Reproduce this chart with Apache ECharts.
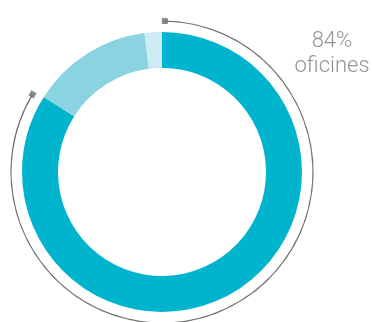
<!DOCTYPE html>
<html><head><meta charset="utf-8">
<script src="https://cdn.jsdelivr.net/npm/echarts@6/dist/echarts.min.js"></script>
<style>html,body{margin:0;padding:0;background:#fff}#c{width:372px;height:322px}</style>
</head><body><div id="c"></div>
<script>
const categories = ['oficines', 'altres', 'resta'];
const values = [84, 14, 2];
const colors = ['#00b4ce', '#8ad3e0', '#cdebf2'];
const arcRange = [0.3, 83.6];
const labelValue = '84%';
const labelText = 'oficines';

const chart = echarts.init(document.getElementById('c'), null, {renderer: 'canvas'});
const C = [162, 172];
chart.setOption({
  animation: false,
  polar: {center: C, radius: 151},
  angleAxis: {type: 'value', min: 0, max: 100, startAngle: 90, clockwise: true, show: false},
  radiusAxis: {type: 'value', min: 0, max: 1, show: false},
  series: [
    {
      type: 'pie', center: C, radius: [104, 140], startAngle: 90, clockwise: true,
      label: {show: false}, labelLine: {show: false}, silent: true,
      itemStyle: {borderWidth: 0},
      data: categories.map((n, i) => ({name: n, value: values[i], itemStyle: {color: colors[i]}}))
    },
    {
      type: 'pie', center: C, radius: [150.4, 151.6], startAngle: 90 - arcRange[0] * 3.6, clockwise: true,
      label: {show: false}, labelLine: {show: false}, silent: true,
      itemStyle: {borderWidth: 0},
      data: [
        {value: arcRange[1] - arcRange[0], itemStyle: {color: '#707070'}},
        {value: 100 - (arcRange[1] - arcRange[0]), itemStyle: {color: 'rgba(0,0,0,0)'}}
      ]
    },
    {
      type: 'scatter', coordinateSystem: 'polar', symbol: 'rect', symbolSize: 6, silent: true,
      itemStyle: {color: '#6e6e6e'},
      data: [
        {value: [1, arcRange[0]], symbolRotate: 0},
        {value: [1, arcRange[1]], symbolRotate: -30}
      ]
    }
  ],
  graphic: [{
    type: 'text', x: 332, y: 29,
    style: {
      text: labelValue + '\n' + labelText, textAlign: 'center',
      font: '300 22px Roboto', lineHeight: 25, fill: '#939393'
    }
  }]
});
</script></body></html>
